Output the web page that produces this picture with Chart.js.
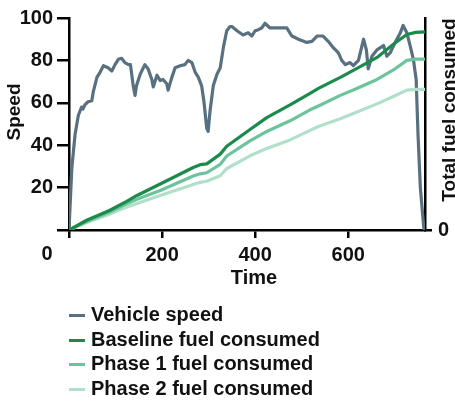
<!DOCTYPE html>
<html>
<head>
<meta charset="utf-8">
<script src="https://cdn.jsdelivr.net/npm/chart.js@4.4.1/dist/chart.umd.min.js"></script>
<style>
  html, body { margin: 0; padding: 0; background: #fff; }
  #wrap { position: relative; width: 455px; height: 403px; }
  #legend { position: absolute; left: 69px; top: 302px; font: bold 20px "Liberation Sans", Arial, sans-serif; color: #111; }
  .item { height: 24.5px; line-height: 24.5px; white-space: nowrap; }
  .swatch { display: inline-block; width: 16px; height: 3px; margin-right: 6px; vertical-align: middle; }
</style>
</head>
<body>
<div id="wrap">
  <canvas id="chart" width="455" height="403"></canvas>
  <div id="legend"></div>
</div>
<script>
// Vehicle speed trace (time in s, speed)
const speedTime = [0, 6, 13, 20, 27, 30, 34, 41, 49, 52, 60, 67, 74, 84, 92, 99, 106, 113, 120, 128, 132,
  138, 142, 145, 153, 163, 170, 178, 181, 189, 196, 202, 210, 213, 221, 228, 239, 249, 256, 264, 271, 278,
  285, 290, 296, 299, 303, 310, 318, 325, 332, 339, 346, 350, 361, 374, 385, 393, 400, 407, 414, 421, 432,
  450, 468, 479, 493, 511, 522, 533, 546, 557, 568, 579, 586, 594, 604, 611, 622, 633, 639, 643, 651, 662,
  669, 676, 683, 690, 701, 712, 718, 726, 733, 740, 746, 750, 755, 761, 763];
const speed = [0, 29, 45, 54, 58, 57, 59, 60.5, 61, 65, 72, 74.5, 77.5, 76.5, 75, 78, 80.5, 81, 79, 78, 78,
  68, 63.5, 68, 73.5, 78, 76, 71, 67.5, 73, 70.5, 71, 69, 66, 72, 76.5, 77.5, 78, 80, 79, 74.5, 72,
  68, 60.5, 48, 46.5, 56, 68, 73.5, 76.5, 86.5, 94, 96, 96, 94, 92, 93, 91.5, 94, 94.5, 95.3, 97.5, 95.3,
  95.3, 95.3, 91.5, 90, 88.5, 89, 91.5, 91.5, 89, 86, 83.5, 80, 78, 79, 77.5, 80, 90, 85, 76, 82, 85,
  86, 87, 82, 83.5, 88.5, 93, 96.5, 93, 87, 80.5, 71, 45, 20, 4.5, 0];

// Cumulative fuel consumed
const fuelTime = [0, 38, 88, 124, 146, 196, 267, 282, 296, 325, 339, 389, 425, 475, 518, 536, 583, 611, 662, 697, 726, 745, 765];
const baseline = [0, 4.6, 9.3, 13.5, 16.3, 21.7, 29.5, 30.8, 31.2, 35.8, 39.5, 47.4, 53, 59, 64.5, 66.8, 72, 75.3, 81.4, 87.6, 92.2, 93.2, 93.5];
const phase1 = [0, 4, 8.5, 12.4, 14.5, 18.6, 25.5, 26.5, 27, 31, 34.9, 42, 46.5, 51.5, 56.7, 58.5, 63.5, 66, 71, 75.5, 80, 80.6, 80.6];
const phase2 = [0, 3.5, 7.5, 10.8, 12.5, 16.3, 21.5, 22.5, 23, 25.6, 29, 35, 38.5, 42.5, 47, 48.8, 52.5, 55, 59.5, 63, 66, 66.3, 66.3];

const seriesNames = ["Vehicle speed", "Baseline fuel consumed", "Phase 1 fuel consumed", "Phase 2 fuel consumed"];
const xTicks = [0, 200, 400, 600];

const FONT = '"Liberation Sans", Arial, sans-serif';
Chart.defaults.font.family = FONT;
Chart.defaults.font.size = 20;
Chart.defaults.font.weight = 'bold';
Chart.defaults.color = '#111';

const pts = (xs, ys) => xs.map((x, i) => ({ x: x, y: ys[i] }));

// titles that Chart.js can't place the way the reference does
const axisText = {
  id: 'axisText',
  afterDraw(chart) {
    const { ctx, chartArea, scales } = chart;
    const midX = (chartArea.left + chartArea.right) / 2;
    const midY = (chartArea.top + chartArea.bottom) / 2;
    ctx.save();
    ctx.font = 'bold 20px ' + FONT;
    ctx.fillStyle = '#111';
    ctx.textAlign = 'center';
    ctx.textBaseline = 'middle';
    // origin label sits left of the axis
    ctx.fillText('0', scales.x.getPixelForValue(0) - 22, chartArea.bottom + 24);
    ctx.fillText('Time', midX + 7, chartArea.bottom + 48);

    ctx.font = 'bold 19px ' + FONT;
    ctx.textBaseline = 'alphabetic';
    ctx.save();
    ctx.translate(20, midY - 12);
    ctx.rotate(-Math.PI / 2);
    ctx.fillText('Speed', 0, 0);
    ctx.restore();

    ctx.save();
    ctx.translate(455, midY - 14);
    ctx.rotate(-Math.PI / 2);
    ctx.fillText('Total fuel consumed', 0, 0);
    ctx.restore();
    ctx.restore();
  }
};

const colors = ['#587080', '#1b8b4b', '#6dc49c', '#b0e0c9'];

const chart = new Chart(document.getElementById('chart'), {
  type: 'line',
  data: {
    datasets: [
      { label: seriesNames[0], data: pts(speedTime, speed), yAxisID: 'y', borderColor: colors[0], order: 4 },
      { label: seriesNames[1], data: pts(fuelTime, baseline), yAxisID: 'y1', borderColor: colors[1], order: 1 },
      { label: seriesNames[2], data: pts(fuelTime, phase1), yAxisID: 'y1', borderColor: colors[2], order: 2 },
      { label: seriesNames[3], data: pts(fuelTime, phase2), yAxisID: 'y1', borderColor: colors[3], order: 3 }
    ]
  },
  options: {
    responsive: false,
    animation: false,
    layout: { padding: { top: 15, left: 0, right: 0, bottom: 111 } },
    elements: {
      point: { radius: 0 },
      line: { borderWidth: 3.2, tension: 0, borderJoinStyle: 'round', borderCapStyle: 'round', fill: false }
    },
    plugins: { legend: { display: false }, tooltip: { enabled: false } },
    scales: {
      x: {
        type: 'linear', min: 0, max: 765,
        border: { color: '#000', width: 2.5 },
        grid: { drawOnChartArea: false, drawTicks: true, tickLength: 8, color: '#000', lineWidth: 2.5 },
        afterBuildTicks: s => { s.ticks = xTicks.map(v => ({ value: v })); },
        ticks: { padding: 5, maxRotation: 0, callback: v => v === 0 ? '' : v },
        afterFit: s => { s.height = 62; }
      },
      y: {
        position: 'left', min: 0, max: 100,
        border: { color: '#000', width: 2.5 },
        grid: { drawOnChartArea: false, drawTicks: true, tickLength: 12, color: '#000', lineWidth: 2.5 },
        ticks: { stepSize: 20, padding: 4, callback: v => v === 0 ? '' : v },
        afterFit: s => { s.width = 69; }
      },
      y1: {
        position: 'right', min: 0, max: 100,
        border: { color: '#000', width: 2.5 },
        grid: { drawOnChartArea: false, drawTicks: true, tickLength: 7, color: '#000', lineWidth: 2.5 },
        afterBuildTicks: s => { s.ticks = [{ value: 0 }]; },
        ticks: { padding: 6 },
        afterFit: s => { s.width = 30; }
      }
    }
  },
  plugins: [axisText]
});

// legend, one entry per line
const legendEl = document.getElementById('legend');
chart.data.datasets.forEach(ds => {
  const row = document.createElement('div');
  row.className = 'item';
  row.innerHTML = `<span class="swatch" style="background:${ds.borderColor}"></span>${ds.label}`;
  legendEl.appendChild(row);
});
</script>
</body>
</html>
